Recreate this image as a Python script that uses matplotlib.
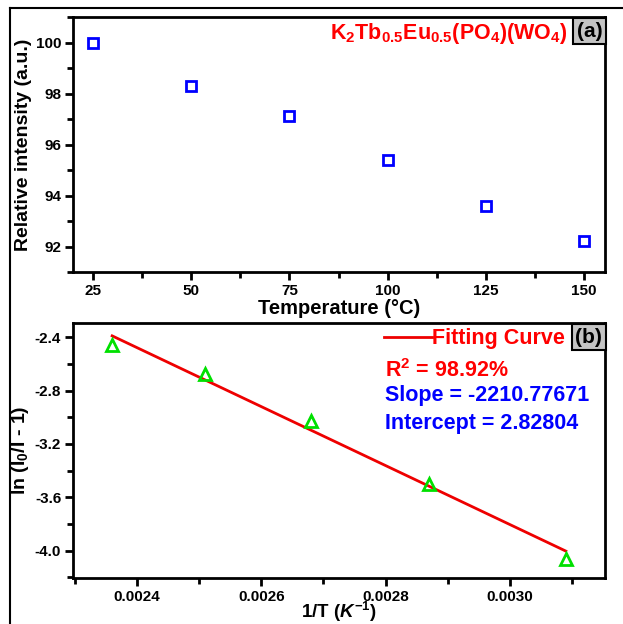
import matplotlib
matplotlib.use("Agg")
import matplotlib.pyplot as plt
from matplotlib.lines import Line2D
from matplotlib.ticker import MultipleLocator, AutoMinorLocator

plt.rcParams['font.family'] = ['Liberation Sans', 'DejaVu Sans']
plt.rcParams['font.weight'] = 'bold'
plt.rcParams['mathtext.fontset'] = 'custom'
plt.rcParams['mathtext.rm'] = 'Liberation Sans:bold'
plt.rcParams['mathtext.it'] = 'Liberation Sans:bold:italic'
plt.rcParams['mathtext.bf'] = 'Liberation Sans:bold'

# panel (a): relative intensity vs temperature
temp_c = [25, 50, 75, 100, 125, 150]
rel_int = [100.0, 98.3, 97.1, 95.4, 93.6, 92.2]

# panel (b): ln(I0/I - 1) vs 1/T
inv_t = [0.00236, 0.00251, 0.00268, 0.00287, 0.00309]
ln_ratio = [-2.46, -2.675, -3.03, -3.50, -4.06]
slope = -2210.77671
intercept = 2.82804
r2_text = "98.92%"

fig = plt.figure(figsize=(6.23, 6.24), dpi=100)

# the reference is a cropped image: frame line on left and top only
fig.add_artist(Line2D([10/623, 10/623], [0, 1 - 8/624], transform=fig.transFigure, color='black', lw=1.5))
fig.add_artist(Line2D([10/623, 1], [1 - 8/624, 1 - 8/624], transform=fig.transFigure, color='black', lw=1.5))

ax1 = fig.add_axes([73/623, 1 - 272/624, 532/623, 255/624])
ax2 = fig.add_axes([73/623, 1 - 578/624, 532/623, 255/624])


def style(ax):
    for s in ax.spines.values():
        s.set_linewidth(2)
    ax.tick_params(which='major', direction='out', length=6, width=2, labelsize=11, pad=2.5)
    ax.tick_params(which='minor', direction='out', length=4, width=2)
    ax.tick_params(top=False, right=False, which='both')
    for lab in ax.get_xticklabels() + ax.get_yticklabels():
        lab.set_fontweight('bold')


def corner_tag(ax, txt):
    ax.text(0.995, 0.982, txt, transform=ax.transAxes, ha='right', va='top',
            fontsize=15, fontweight='bold', color='black',
            bbox=dict(boxstyle='square,pad=0.18', fc='#c4c4c4', ec='black', lw=1.5))


ax1.plot(temp_c, rel_int, ls='none', marker='s', ms=7, mfc='none', mec='#0000ff', mew=2)
ax1.set_xlim(19.9, 155.3)
ax1.set_ylim(91, 101)
ax1.xaxis.set_major_locator(MultipleLocator(25))
ax1.xaxis.set_minor_locator(AutoMinorLocator(2))
ax1.yaxis.set_major_locator(MultipleLocator(2))
ax1.yaxis.set_minor_locator(AutoMinorLocator(2))
ax1.set_xlabel('Temperature (°C)', fontsize=14.5, fontweight='bold', labelpad=1)
ax1.set_ylabel('Relative intensity (a.u.)', fontsize=14, fontweight='bold', labelpad=3)
style(ax1)
ax1.text(0.93, 0.985, r'K$_2$Tb$_{0.5}$Eu$_{0.5}$(PO$_4$)(WO$_4$)', transform=ax1.transAxes,
         ha='right', va='top', fontsize=15.5, fontweight='bold', color='#ff0000')
corner_tag(ax1, '(a)')

x_fit = [inv_t[0], inv_t[-1]]
y_fit = [intercept + slope * v for v in x_fit]
ax2.plot(x_fit, y_fit, color='#ee0000', lw=2, label='Fitting Curve')
ax2.plot(inv_t, ln_ratio, ls='none', marker='^', ms=9, mfc='none', mec='#00e000', mew=2)
ax2.set_xlim(0.002297, 0.003153)
ax2.set_ylim(-4.205, -2.293)
ax2.xaxis.set_major_locator(MultipleLocator(0.0002))
ax2.xaxis.set_minor_locator(AutoMinorLocator(2))
ax2.yaxis.set_major_locator(MultipleLocator(0.4))
ax2.yaxis.set_minor_locator(AutoMinorLocator(2))
ax2.xaxis.set_major_formatter(plt.FuncFormatter(lambda v, p: f'{v:.4f}'))
ax2.yaxis.set_major_formatter(plt.FuncFormatter(lambda v, p: f'{v:.1f}'))
ax2.set_xlabel(r'1/T ($K^{-1}$)', fontsize=13.5, fontweight='bold', labelpad=-3)
ax2.set_ylabel(r'ln (I$_0$/I - 1)', fontsize=14, fontweight='bold', labelpad=3)
style(ax2)
leg = ax2.legend(loc='upper right', bbox_to_anchor=(0.948, 1.03), frameon=False,
                 handlelength=2.2, handletextpad=0.0, borderaxespad=0.2,
                 prop={'size': 15.5, 'weight': 'bold'})
for t in leg.get_texts():
    t.set_color('#ff0000')
corner_tag(ax2, '(b)')
ax2.text(0.587, 0.815, r'R$^2$ = ' + r2_text, transform=ax2.transAxes, ha='left', va='center',
         fontsize=15.5, fontweight='bold', color='#ff0000')
ax2.text(0.587, 0.715, f'Slope = {slope}', transform=ax2.transAxes, ha='left', va='center',
         fontsize=15.5, fontweight='bold', color='#0000ff')
ax2.text(0.587, 0.605, f'Intercept = {intercept}', transform=ax2.transAxes, ha='left', va='center',
         fontsize=15.5, fontweight='bold', color='#0000ff')

fig.savefig('out.png', dpi=100)
